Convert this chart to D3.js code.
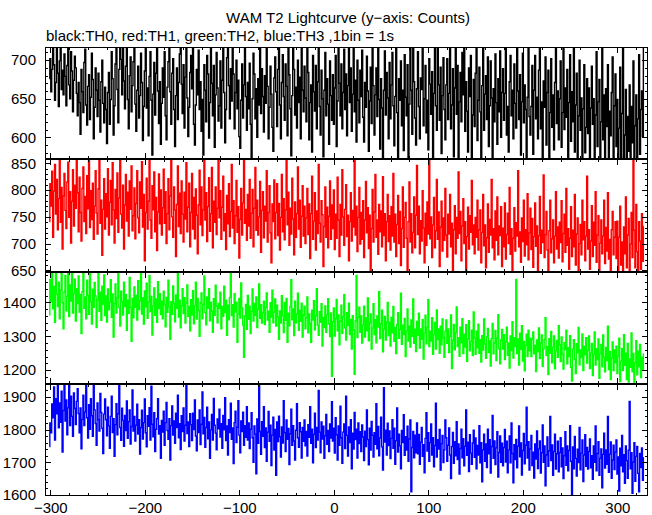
<!DOCTYPE html>
<html><head><meta charset="utf-8">
<script src="https://cdn.jsdelivr.net/npm/d3@7"></script>
<style>
body{margin:0;background:#fff}
text{font-family:"Liberation Sans",Arial,Helvetica,sans-serif;font-size:15px;fill:#000}
</style>
</head><body>
<svg id="chart" width="652" height="515"></svg>
<script>
const titleText = "WAM T2 Lightcurve (y\u2212axis: Counts)";
const subtitleText = "black:TH0, red:TH1, green:TH2, blue:TH3 ,1bin = 1s";
const startTime = -301;
const xTickValues = [-300,-200,-100,0,100,200,300];

const th0 = [
676,702,659,688,721,694,648,671,716,683,640,699,730,662,687,655,708,679,641,693,724,668,650,711,686,633,674,705,690,657,
628,671,645,604,688,659,632,697,714,642,616,666,681,623,652,709,675,598,639,690,661,627,683,648,607,672,700,644,619,665,
636,592,658,684,617,649,711,676,603,641,695,730,662,619,688,744,701,655,718,673,637,692,725,649,611,680,704,633,667,698,
717,643,608,661,692,625,654,709,671,596,640,686,720,638,664,602,679,711,648,577,656,697,629,683,742,660,618,672,591,644,
690,652,711,628,597,665,698,741,659,617,683,702,636,588,654,690,623,671,708,757,669,631,694,612,678,720,651,601,639,684,
706,663,729,617,590,642,688,655,713,636,672,608,649,577,694,661,620,706,682,599,645,733,670,628,693,587,655,710,664,621,
641,699,612,674,717,658,593,636,703,726,667,624,689,647,755,682,611,658,700,637,674,601,586,648,695,625,668,720,653,609,
671,637,696,617,568,650,709,682,624,663,600,676,642,715,631,689,653,607,680,644,721,666,598,639,692,656,613,582,677,704,
659,614,688,735,642,598,671,707,653,622,695,666,602,719,681,637,576,654,733,688,629,665,612,700,645,678,598,724,661,633,
692,651,620,715,684,597,645,668,581,706,659,634,693,611,672,728,640,603,687,650,575,661,710,628,676,643,591,699,654,622,
681,617,664,706,588,647,739,670,628,695,611,658,714,636,682,602,667,752,645,690,608,656,721,633,674,594,700,648,619,687,
653,713,626,594,671,639,705,660,582,647,691,618,728,667,603,655,690,627,716,649,585,676,638,566,661,712,629,684,651,598,
697,624,668,710,641,589,653,727,632,571,676,648,699,615,661,583,707,652,628,694,567,643,720,661,604,739,672,625,590,663,
711,640,598,677,662,721,615,650,693,606,648,584,702,669,630,685,560,657,716,641,609,733,668,622,691,579,654,703,636,597,
668,702,623,657,738,611,642,689,575,664,716,630,693,562,646,684,620,710,655,745,608,672,634,581,690,653,706,568,629,675,
614,683,719,596,648,691,633,570,667,725,609,656,680,623,704,588,641,699,651,573,663,620,708,645,591,676,633,712,600,658,
689,622,657,731,603,640,581,672,706,628,661,598,695,644,612,738,660,623,681,577,646,709,619,668,636,565,652,718,627,603,
640,693,578,661,706,624,652,598,687,729,611,646,569,673,639,704,590,658,687,556,632,702,613,655,584,671,723,618,660,597,
650,699,587,632,717,610,664,626,688,563,645,707,595,659,620,724,581,642,683,574,628,700,609,651,552,637,694,580,613,676,
605,664,572,638,692,617,650,553,629,711,588,646,675,562,620,719,597,655,570,663,614,694,549,634,602,658,704,567,641,682,
588,649,543,612,691,566,631,716,550,603,662,537,627,582,668,556,640,593,699,560,615,655,545,624,707,578,636,660,601,720
];

const th1 = [
741,812,770,835,712,798,848,755,820,726,784,860,740,805,690,789,831,762,728,815,852,749,797,701,779,838,733,809,766,872,
795,722,824,758,705,803,843,741,788,719,827,765,855,730,799,745,813,708,770,836,757,718,802,861,738,781,678,764,821,727,
793,750,840,716,777,818,735,851,763,701,801,747,832,721,785,869,755,729,809,690,772,829,742,796,714,817,764,845,724,752,
804,709,775,836,748,720,815,766,853,731,792,668,758,822,727,779,858,744,710,808,763,834,722,786,687,759,830,737,800,716,
767,839,738,797,700,756,821,726,789,878,750,712,806,763,676,773,845,732,794,719,817,755,703,796,746,851,722,768,813,694,
758,831,727,786,709,802,753,681,772,837,735,806,715,763,862,744,795,704,769,823,723,756,842,692,779,740,806,717,766,874,
748,799,708,768,826,724,756,689,790,737,812,713,760,848,729,780,700,752,818,721,769,673,745,803,716,776,858,738,764,706,
792,733,820,710,757,801,694,766,842,725,781,716,750,816,684,762,797,711,770,742,836,703,758,808,720,664,774,741,819,709,
758,812,715,775,688,749,829,722,784,707,763,870,735,796,697,766,718,822,746,679,778,712,756,843,727,781,693,751,808,714,
770,700,748,803,717,774,672,756,826,708,742,795,688,761,719,848,738,703,780,754,657,732,806,712,768,692,751,817,708,772,
728,800,689,755,710,824,744,676,773,716,838,750,697,764,810,713,753,668,741,795,705,762,731,858,716,770,685,749,805,699,
758,708,780,674,744,816,720,767,691,753,650,728,801,703,759,829,712,744,680,773,722,761,694,825,715,756,668,741,792,704,
752,688,769,714,831,703,755,676,736,790,700,760,659,728,806,693,749,777,710,642,741,815,703,756,683,721,787,692,753,846,
717,770,681,743,705,799,729,664,757,697,778,718,855,709,750,674,735,786,692,724,820,708,759,657,731,779,686,748,706,803,
716,675,755,718,792,694,738,650,726,771,681,749,710,834,719,760,668,733,784,700,741,640,713,768,690,752,721,818,698,735,
681,749,712,781,688,726,763,664,721,792,696,735,655,711,774,684,745,716,820,692,728,670,761,706,787,679,733,715,769,657,
729,694,776,671,717,757,700,805,680,728,621,710,767,686,739,714,836,694,722,665,748,704,781,677,726,698,793,670,720,766,
689,747,656,713,776,695,733,648,715,788,682,725,702,828,674,717,760,688,632,724,781,683,709,744,664,714,797,690,731,673,
740,702,780,666,719,755,684,803,697,728,652,710,769,676,725,694,792,660,718,748,615,700,736,679,781,707,741,668,714,826,
690,726,652,705,771,676,740,697,797,665,716,752,622,701,744,681,714,781,663,730,686,795,671,708,640,726,760,679,712,741,
672,742,648,712,770,660,703,608,731,681,787,655,716,747,638,699,758,674,858,725,655,773,685,612,741,705,652,756,667,732
];

const th2 = [
1363,1468,1402,1490,1381,1447,1341,1510,1425,1388,1460,1352,1436,1488,1399,1322,1431,1480,1375,1418,1502,1358,1452,1404,1485,1369,1426,1469,1345,1441,
1397,1478,1372,1424,1308,1432,1489,1383,1416,1352,1466,1421,1365,1497,1403,1336,1439,1386,1459,1419,1326,1408,1505,1374,1430,1347,1448,1395,1481,1361,
1419,1342,1440,1378,1401,1467,1356,1425,1298,1397,1455,1369,1414,1492,1385,1330,1433,1402,1363,1460,1389,1423,1318,1407,1368,1474,1384,1285,1412,1355,
1446,1386,1421,1348,1464,1379,1405,1503,1366,1414,1336,1434,1387,1457,1353,1401,1479,1373,1418,1304,1390,1443,1362,1410,1341,1461,1382,1426,1364,1404,
1352,1433,1394,1328,1415,1371,1466,1387,1291,1402,1365,1449,1398,1343,1422,1383,1485,1357,1407,1325,1390,1441,1367,1414,1339,1398,1452,1359,1388,1316,
1408,1363,1435,1337,1390,1460,1351,1412,1376,1300,1399,1428,1352,1394,1478,1370,1334,1416,1383,1441,1346,1401,1374,1312,1411,1362,1451,1389,1340,1397,
1382,1430,1322,1388,1359,1448,1370,1407,1303,1392,1349,1415,1486,1361,1393,1327,1426,1372,1401,1282,1366,1412,1354,1458,1384,1333,1238,1360,1394,1321,
1421,1350,1389,1308,1373,1440,1345,1397,1362,1416,1326,1380,1455,1353,1393,1339,1369,1404,1335,1386,1428,1348,1374,1312,1399,1357,1436,1340,1371,1410,
1330,1392,1357,1291,1375,1339,1420,1361,1311,1400,1347,1412,1282,1368,1331,1388,1467,1349,1381,1302,1404,1340,1366,1427,1318,1376,1344,1398,1298,1363,
1389,1322,1355,1416,1310,1366,1338,1282,1377,1348,1405,1319,1360,1441,1333,1303,1373,1341,1396,1271,1356,1326,1390,1312,1364,1411,1337,1299,1369,1182,
1343,1384,1301,1352,1409,1316,1363,1275,1344,1392,1309,1358,1423,1325,1289,1370,1332,1398,1305,1350,1262,1361,1319,1188,1345,1480,1296,1357,1386,1312,
1360,1280,1333,1389,1298,1354,1316,1413,1287,1340,1366,1262,1325,1396,1305,1349,1281,1360,1327,1432,1293,1337,1377,1254,1321,1359,1289,1343,1400,1302,
1342,1271,1356,1310,1388,1285,1326,1249,1335,1370,1294,1320,1427,1276,1333,1305,1353,1240,1316,1381,1286,1330,1268,1348,1300,1410,1279,1321,1255,1344,
1303,1368,1265,1322,1291,1349,1233,1310,1362,1278,1327,1408,1270,1315,1286,1355,1247,1305,1341,1262,1378,1290,1322,1250,1330,1275,1351,1296,1238,1315,
1348,1279,1322,1252,1300,1363,1205,1288,1335,1260,1311,1387,1270,1296,1241,1327,1281,1352,1249,1306,1268,1334,1226,1292,1346,1257,1285,1318,1243,1372,
1295,1247,1315,1266,1336,1250,1290,1224,1302,1259,1351,1277,1235,1298,1323,1252,1286,1212,1293,1338,1248,1280,1317,1228,1295,1364,1263,1219,1289,1320,
1262,1305,1231,1283,1327,1244,1280,1206,1301,1258,1343,1236,1296,1270,1468,1249,1292,1215,1309,1261,1331,1227,1285,1198,1273,1306,1240,1318,1257,1294,
1240,1291,1313,1248,1273,1196,1289,1255,1325,1234,1280,1304,1211,1262,1290,1355,1243,1270,1187,1293,1250,1314,1222,1268,1301,1204,1257,1288,1238,1331,
1275,1225,1298,1247,1203,1281,1261,1318,1219,1266,1240,1302,1208,1168,1262,1290,1232,1190,1278,1251,1326,1216,1260,1237,1307,1199,1271,1245,1296,1221,
1258,1301,1205,1251,1279,1184,1246,1313,1215,1263,1231,1292,1176,1249,1276,1210,1304,1238,1195,1267,1228,1330,1202,1255,1172,1236,1283,1199,1260,1222,
1271,1190,1241,1294,1166,1226,1263,1199,1305,1214,1250,1172,1279,1165,1233,1208,1310,1195,1249,1163,1222,1287,1186,1256,1210,1276,1178,1238,1201,1248
];

const th3 = [
1748,1820,1790,1878,1836,1930,1768,1894,1848,1960,1805,1881,1822,1917,1731,1858,1945,1826,1890,1784,1866,1958,1812,1902,1840,1779,1912,1864,1815,1886,
1925,1849,1790,1866,1741,1831,1905,1812,1853,1950,1836,1774,1876,1801,1894,1842,1779,1938,1860,1818,1752,1881,1830,1795,1910,1852,1804,1727,1847,1893,
1830,1781,1868,1811,1743,1840,1902,1791,1833,1718,1815,1879,1784,1848,1945,1806,1767,1865,1828,1749,1843,1797,1887,1773,1824,1860,1756,1809,1921,1795,
1840,1765,1813,1877,1786,1830,1725,1806,1859,1771,1821,1893,1790,1747,1842,1810,1867,1768,1932,1816,1778,1851,1733,1801,1833,1894,1786,1812,1712,1828,
1792,1856,1752,1821,1883,1797,1770,1833,1707,1812,1872,1783,1826,1758,1850,1806,1905,1775,1818,1739,1842,1794,1866,1765,1813,1945,1788,1823,1748,1848,
1815,1766,1850,1800,1890,1780,1735,1829,1791,1860,1754,1816,1915,1787,1837,1746,1806,1868,1772,1823,1712,1799,1846,1768,1895,1813,1789,1738,1832,1802,
1862,1777,1818,1743,1843,1799,1897,1766,1811,1722,1830,1791,1880,1770,1805,1696,1821,1856,1760,1807,1888,1783,1729,1826,1794,1853,1752,1812,1776,1870,
1768,1820,1742,1801,1851,1775,1700,1811,1786,1665,1832,1758,1938,1794,1724,1824,1779,1870,1745,1805,1703,1792,1855,1764,1813,1690,1783,1838,1737,1800,
1660,1823,1763,1841,1778,1716,1808,1759,1888,1790,1733,1829,1770,1803,1693,1787,1862,1752,1812,1765,1707,1798,1879,1775,1746,1821,1793,1713,1806,1764,
1829,1750,1794,1719,1815,1776,1870,1758,1801,1698,1785,1850,1745,1806,1768,1919,1792,1729,1823,1771,1810,1712,1781,1846,1755,1797,1733,1817,1774,1885,
1765,1804,1728,1836,1784,1707,1811,1752,1871,1775,1697,1792,1817,1742,1902,1782,1719,1808,1760,1830,1680,1789,1740,1852,1769,1801,1713,1820,1757,1793,
1733,1814,1777,1705,1795,1748,1860,1769,1692,1804,1737,1825,1782,1716,1790,1755,1879,1741,1809,1720,1774,1838,1747,1676,1928,1762,1798,1722,1819,1751,
1796,1711,1773,1830,1743,1804,1694,1766,1866,1731,1786,1750,1680,1797,1760,1845,1721,1778,1737,1810,1703,1771,1829,1610,1745,1794,1714,1783,1729,1820,
1726,1785,1694,1761,1806,1718,1754,1668,1773,1851,1734,1790,1703,1760,1817,1722,1775,1686,1751,1880,1716,1769,1740,1800,1676,1757,1782,1699,1738,1829,
1775,1703,1752,1805,1722,1650,1748,1791,1697,1763,1720,1824,1708,1756,1664,1742,1801,1714,1772,1689,1749,1860,1721,1761,1672,1784,1728,1694,1759,1798,
1715,1774,1680,1751,1722,1812,1698,1760,1640,1738,1786,1703,1756,1684,1801,1726,1769,1667,1748,1843,1712,1765,1693,1744,1793,1655,1730,1780,1700,1758,
1689,1745,1800,1701,1764,1668,1738,1780,1698,1820,1727,1637,1754,1708,1770,1683,1749,1811,1717,1759,1661,1736,1788,1695,1752,1868,1713,1763,1676,1741,
1782,1690,1731,1652,1756,1710,1796,1681,1741,1765,1667,1729,1814,1700,1750,1628,1722,1777,1688,1735,1840,1705,1753,1660,1733,1786,1679,1726,1764,1671,
1730,1775,1686,1744,1650,1720,1793,1691,1750,1674,1736,1812,1703,1602,1747,1680,1779,1712,1658,1740,1699,1806,1677,1728,1768,1641,1722,1784,1688,1745,
1679,1733,1771,1683,1720,1648,1750,1700,1811,1674,1727,1763,1660,1712,1741,1622,1724,1789,1682,1738,1694,1840,1669,1725,1762,1651,1707,1752,1678,1731,
1768,1664,1716,1612,1743,1689,1782,1671,1723,1636,1750,1705,1651,1737,1886,1680,1729,1605,1701,1760,1642,1718,1748,1666,1610,1727,1684,1744,1645,1714
];

const panels = [
  {values: th0, color: "#000000", domain: [572, 717],   major: [600, 650, 700],        minorStep: 10},
  {values: th1, color: "#ff0000", domain: [647, 858],   major: [650, 700, 750, 800, 850], minorStep: 10},
  {values: th2, color: "#00ff00", domain: [1159, 1490], major: [1200, 1300, 1400],     minorStep: 20},
  {values: th3, color: "#0000ff", domain: [1597, 1939], major: [1600, 1700, 1800, 1900], minorStep: 20}
];

(function () {
const mLeft = 45, mRight = 648, mTop = 47, mBottom = 496;
const svg = d3.select("#chart");

const x = d3.scaleLinear().domain([-305.6, 332.4]).range([mLeft, mRight]);
const xMinor = d3.range(-300, 333, 20);
const panelH = (mBottom - mTop) / panels.length;

svg.append("text").attr("x", 348).attr("y", 23).attr("text-anchor", "middle").text(titleText);
svg.append("text").attr("x", 46).attr("y", 41).text(subtitleText);

panels.forEach((p, k) => {
  const y0 = Math.round(mTop + k * panelH), y1 = Math.round(mTop + (k + 1) * panelH);
  const y = d3.scaleLinear().domain(p.domain).range([y1, y0]);
  const g = svg.append("g");
  const cid = "clip" + k;
  svg.append("clipPath").attr("id", cid).append("rect")
    .attr("x", mLeft).attr("y", y0).attr("width", mRight - mLeft).attr("height", y1 - y0);

  const line = d3.line().x((d, i) => x(startTime + i)).y(d => y(d)).curve(d3.curveStep);
  g.append("path").datum(p.values).attr("clip-path", `url(#${cid})`)
    .attr("fill", "none").attr("stroke", p.color).attr("stroke-width", 1.4)
    .attr("d", line);

  const minorVals = d3.range(Math.ceil(p.domain[0] / p.minorStep) * p.minorStep, p.domain[1], p.minorStep)
    .filter(v => !p.major.includes(v));

  const la = g.append("g").attr("transform", `translate(${mLeft},0)`)
    .call(d3.axisLeft(y).tickValues(p.major).tickSize(-6).tickPadding(9).tickFormat(d3.format("d")));
  la.select(".domain").remove();
  const lm = g.append("g").attr("transform", `translate(${mLeft},0)`)
    .call(d3.axisLeft(y).tickValues(minorVals).tickSize(-3).tickFormat(""));
  lm.select(".domain").remove();
  const ra = g.append("g").attr("transform", `translate(${mRight},0)`)
    .call(d3.axisRight(y).tickValues(p.major).tickSize(-6).tickFormat(""));
  ra.select(".domain").remove();
  const rm = g.append("g").attr("transform", `translate(${mRight},0)`)
    .call(d3.axisRight(y).tickValues(minorVals).tickSize(-3).tickFormat(""));
  rm.select(".domain").remove();
  [[y0, d3.axisBottom], [y1, d3.axisTop]].forEach(([yy, ax]) => {
    const a = g.append("g").attr("transform", `translate(0,${yy})`)
      .call(ax(x).tickValues(xTickValues).tickSize(6).tickFormat(""));
    a.select(".domain").remove();
    const m = g.append("g").attr("transform", `translate(0,${yy})`)
      .call(ax(x).tickValues(xMinor.filter(v => !xTickValues.includes(v))).tickSize(3).tickFormat(""));
    m.select(".domain").remove();
  });
  g.append("rect").attr("x", mLeft + 0.5).attr("y", y0 + 0.5)
    .attr("width", mRight - mLeft - 1).attr("height", y1 - y0 - 1)
    .attr("fill", "none").attr("stroke", "#000").attr("stroke-width", 1);
});

const xa = svg.append("g").attr("transform", `translate(0,${mBottom})`)
  .call(d3.axisBottom(x).tickValues(xTickValues).tickSize(0).tickPadding(6).tickFormat(d3.format("d")));
xa.select(".domain").remove();

svg.selectAll(".tick line").attr("stroke", "#000").attr("shape-rendering", "crispEdges");
svg.selectAll(".tick text").style("font-family", '"Liberation Sans",Arial,Helvetica,sans-serif').style("font-size", "15px").attr("fill", "#000");
})();
</script>
</body></html>
